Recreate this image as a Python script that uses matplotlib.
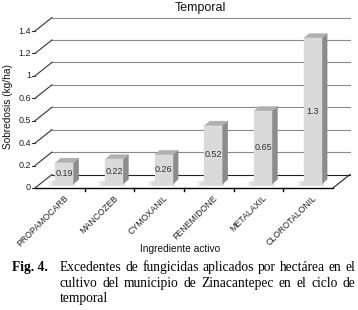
import numpy as np
import matplotlib
matplotlib.use('Agg')
import matplotlib.pyplot as plt
from matplotlib.patches import Polygon
from matplotlib.lines import Line2D

# data
categories = ['PROPAMOCARB', 'MANCOZEB', 'CYMOXANIL', 'FENEMIDONE', 'METALAXIL', 'CLOROTALONIL']
values = [0.19, 0.22, 0.26, 0.52, 0.65, 1.3]
value_labels = ['0.19', '0.22', '0.26', '0.52', '0.65', '1.3']
ytick_pos = [0, 0.2, 0.4, 0.6, 0.8, 1.0, 1.2, 1.4]
ytick_labels = ['0', '0.2', '0.4', '0.5', '0.6', '1', '1.2', '1.4']

caption_lines = [
    'Excedentes de fungicidas aplicados por hectárea en el',
    'cultivo del municipio de Zinacantepec en el ciclo de',
    'temporal',
]

W, H = 358, 310
fig = plt.figure(figsize=(W / 100, H / 100), dpi=100)
plt.rcParams['font.family'] = 'Liberation Sans'

ax = fig.add_axes([35 / W, 122 / H, 298 / W, 157 / H])
ax.set_xlim(-0.5, len(categories) - 0.5)
ax.set_ylim(0, 1.4)
ax.axis('off')

DEPTH = np.array([17.0, 13.5])      # wall depth in pixels
BOFF = np.array([4.5, 4.0])         # front plane of bars
BDEP = np.array([5.5, 4.6])         # bar depth
BAR_W = 0.36

to_fig = fig.transFigure.inverted()


def disp(x, y):
    return ax.transData.transform((x, y))


def line(pts, **kw):
    p = to_fig.transform(np.array(pts))
    fig.add_artist(Line2D(p[:, 0], p[:, 1], transform=fig.transFigure, **kw))


def poly(pts, **kw):
    p = to_fig.transform(np.array(pts))
    fig.add_artist(Polygon(p, closed=True, transform=fig.transFigure, **kw))


def ftext(pt, s, **kw):
    p = to_fig.transform(pt)
    return fig.text(p[0], p[1], s, **kw)


x_lo, x_hi = ax.get_xlim()

# walls / gridlines
for v, lab in zip(ytick_pos, ytick_labels):
    fl = disp(x_lo, v)
    bl = fl + DEPTH
    br = disp(x_hi, v) + DEPTH
    line([bl, br], color='#222222' if v == 0 else '#8a8a8a', lw=0.8)
    line([fl, bl], color='#333333', lw=0.8)
    line([fl - [3, 0], fl], color='#333333', lw=0.8)
    ftext(fl - [4, 0], lab, ha='right', va='center', fontsize=6.5, color='#222222')

# floor
line([disp(x_lo, 0), disp(x_hi, 0)], color='black', lw=1.0)
line([disp(x_hi, 0), disp(x_hi, 0) + DEPTH], color='#222222', lw=0.8)
for k in range(len(categories) - 1):
    p = disp(k + 0.5, 0)
    line([p, p - [0, 3]], color='black', lw=1.0)

# bars
for i, v in enumerate(values):
    p00 = disp(i - BAR_W / 2, 0) + BOFF
    p10 = disp(i + BAR_W / 2, 0) + BOFF
    p11 = disp(i + BAR_W / 2, v) + BOFF
    p01 = disp(i - BAR_W / 2, v) + BOFF
    # soft shadow on the floor
    for s, a in [(7, 0.10), (5, 0.12), (3, 0.15)]:
        poly([p00 + [-s, -2], p10 + [2, -2], p10 + [2, 3], p00 + [-s, 3]],
             facecolor='#9a9a9a', edgecolor='none', alpha=a, zorder=1)
    poly([p10, p10 + BDEP, p11 + BDEP, p11], facecolor='#8c8c8c', edgecolor='#8c8c8c', lw=0.3, zorder=2)
    poly([p01, p11, p11 + BDEP, p01 + BDEP], facecolor='#b0b0b0', edgecolor='#b0b0b0', lw=0.3, zorder=2)
    poly([p00, p10, p11, p01], facecolor='#dadada', edgecolor='#dadada', lw=0.3, zorder=3)
    ftext((p00 + p11) / 2, value_labels[i], ha='center', va='center', fontsize=6.5,
          color='#333333', zorder=4)
    # category label
    ftext(disp(i, 0) + [7, -8.5], categories[i], rotation=45, rotation_mode='anchor',
          ha='right', va='center', fontsize=6.3, color='#222222')

fig.text(200 / W, 1 - 8 / H, 'Temporal', ha='center', va='center', fontsize=9, color='#111111')
fig.text(8 / W, 1 - 107 / H, 'Sobredosis (kg/ha)', rotation=90, ha='center', va='center',
         fontsize=7.3, color='#111111')
fig.text(180 / W, 1 - 249 / H, 'Ingrediente activo', ha='center', va='center',
         fontsize=7.3, color='#111111')

# caption, justified
cap_kw = dict(fontfamily='Liberation Serif', fontsize=9.75, color='black', va='baseline')
fig.text(12 / W, 1 - 271 / H, 'Fig. 4.', fontweight='bold', **cap_kw)
renderer = fig.canvas.get_renderer()
left, right = 60, 355
baselines = [271, 287, 302]
for k, (txt, yb) in enumerate(zip(caption_lines, baselines)):
    words = txt.split(' ')
    if k == len(caption_lines) - 1:
        fig.text(left / W, 1 - yb / H, txt, **cap_kw)
        continue
    arts = [fig.text(0, 1 - yb / H, w, **cap_kw) for w in words]
    widths = [a.get_window_extent(renderer).width for a in arts]
    gap = (right - left - sum(widths)) / (len(words) - 1)
    x = left
    for a, wd in zip(arts, widths):
        a.set_x(x / W)
        x += wd + gap

fig.savefig('out.png', dpi=100, facecolor='white')
